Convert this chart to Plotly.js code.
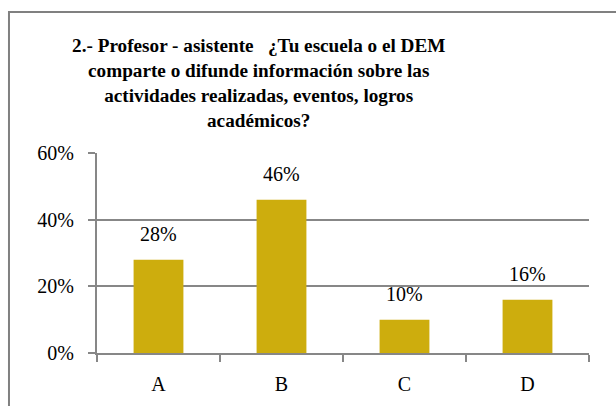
<!DOCTYPE html>
<html>
<head>
<meta charset="utf-8">
<script src="https://cdn.plot.ly/plotly-3.0.1.min.js"></script>
<style>html,body{margin:0;padding:0;background:#fff;}#chart{width:616px;height:406px;}</style>
</head>
<body>
<div id="chart"></div>
<script>
const categories = ['A', 'B', 'C', 'D'];
const values = [0.28, 0.46, 0.10, 0.16];
const valueLabels = ['28%', '46%', '10%', '16%'];
const yTickValues = [0, 0.2, 0.4, 0.6];
const yTickLabels = ['0%', '20%', '40%', '60%'];
const titleText = '2.- Profesor - asistente   ¿Tu escuela o el DEM<br>comparte o difunde información sobre las<br>actividades realizadas, eventos, logros<br>académicos?';

const serif = 'Liberation Serif';
const gridCol = '#878787';

const trace = {
  type: 'bar',
  x: categories,
  y: values,
  marker: {color: '#CDAD0D', line: {width: 0}},
  hoverinfo: 'none'
};

const annotations = categories.map((c, i) => ({
  x: c, y: values[i], xref: 'x', yref: 'y',
  text: valueLabels[i], showarrow: false,
  yanchor: 'bottom', yshift: 13,
  font: {family: serif, size: 20, color: '#000'}
}));

const layout = {
  width: 616, height: 406,
  margin: {l: 97, r: 27, t: 153, b: 53},
  paper_bgcolor: '#fff', plot_bgcolor: '#fff',
  showlegend: false,
  bargap: 0.595,
  title: {
    text: titleText,
    font: {family: serif, size: 19.2, color: '#000', weight: 'bold'},
    x: 0.42, xanchor: 'center', xref: 'container',
    y: 0.872, yanchor: 'top', yref: 'container'
  },
  xaxis: {
    type: 'category',
    showgrid: false,
    showline: true, linecolor: gridCol, linewidth: 2,
    ticks: 'outside', tickson: 'boundaries', ticklen: 7, tickwidth: 2, tickcolor: gridCol,
    tickfont: {family: serif, size: 20, color: '#000'},
    ticklabelstandoff: 12,
    zeroline: false
  },
  yaxis: {
    range: [0, 0.6],
    tickvals: yTickValues, ticktext: yTickLabels,
    showgrid: true, gridcolor: gridCol, gridwidth: 2,
    showline: true, linecolor: gridCol, linewidth: 2,
    ticks: 'outside', ticklen: 7, tickwidth: 2, tickcolor: gridCol,
    tickfont: {family: serif, size: 20, color: '#000'},
    ticklabelstandoff: 10,
    zeroline: false
  },
  annotations: annotations,
  shapes: [{
    type: 'rect', xref: 'paper', yref: 'paper',
    x0: -0.1789, x1: 1.07, y0: -0.3, y1: 1.705,
    line: {color: '#808080', width: 2}, fillcolor: 'rgba(0,0,0,0)', layer: 'above'
  }]
};

Plotly.newPlot('chart', [trace], layout, {staticPlot: true, displayModeBar: false});
</script>
</body>
</html>
